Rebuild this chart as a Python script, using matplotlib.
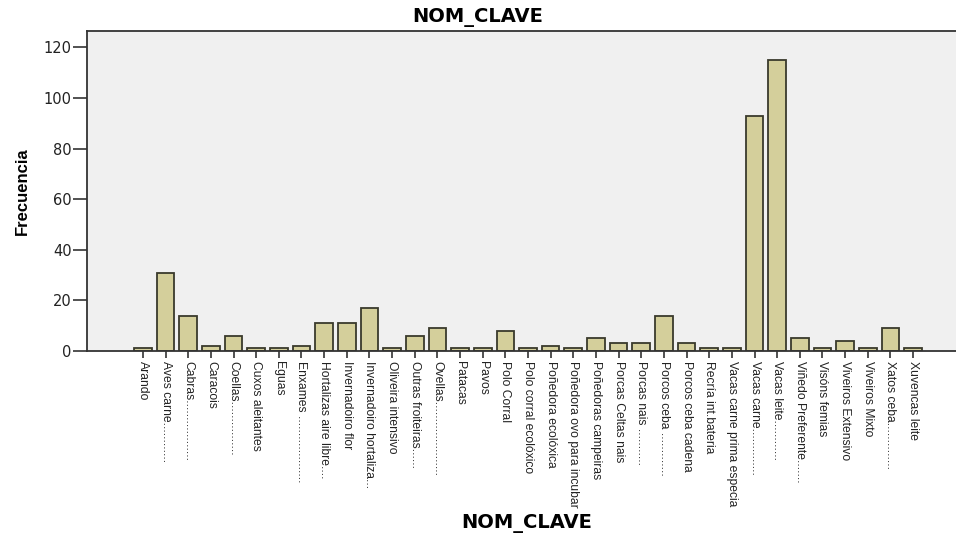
import matplotlib
matplotlib.use('Agg')
import matplotlib.pyplot as plt

# categorías e frecuencias
categorias = [
    "Arando", "Aves carne............", "Cabras..................", "Caracois",
    "Coellas................", "Cuxos aleitantes", "Eguas", "Enxames ....................",
    "Hortalizas aire libre....", "Invernadoiro flor", "Invernadoiro hortaliza...",
    "Oliveira intensivo", "Outras froiteiras......", "Ovellas......................",
    "Patacas", "Pavos", "Polo Corral", "Polo corral ecolóxico", "Poñedora ecolóxica",
    "Poñedora ovo para incubar", "Poñedoras campeiras", "Porcas Celtas nais",
    "Porcas nais ...........", "Porcos ceba .............", "Porcos ceba cadena",
    "Recría int.bateria", "Vacas carne prima especia", "Vacas carne..............",
    "Vacas leite............", "Viñedo Preferente.......", "Visóns femias",
    "Viveiros Extensivo", "Viveiros Mixto", "Xatos ceba..............", "Xuvencas leite",
]
frecuencias = [1, 31, 14, 2, 6, 1, 1, 2, 11, 11, 17, 1, 6, 9, 1, 1, 8, 1, 2, 1,
               5, 3, 3, 14, 3, 1, 1, 93, 115, 5, 1, 4, 1, 9, 1]
yticks = [0, 20, 40, 60, 80, 100, 120]

fig = plt.figure(figsize=(9.56, 5.37), dpi=100)
# o eixo continúa por fóra da dereita da imaxe, coma no orixinal
ax = fig.add_axes([87 / 956, 1 - 351 / 537, 882 / 956, 320 / 537])
ax.set_facecolor('#f0f0f0')

x = list(range(len(categorias)))
ax.bar(x, frecuencias, width=0.78, color='#d4cf9b', edgecolor='#3a3a2c', linewidth=1.3)

ax.set_xlim(-2.47, 36.47)
ax.set_ylim(0, 126.5)
ax.set_yticks(yticks)
ax.set_xticks(x)
ax.set_xticklabels(categorias, rotation=270, fontsize=8.7, family='Liberation Sans',
                   color='#222222', va='top', ha='center')
for lab in ax.get_yticklabels():
    lab.set_fontsize(10.5)
    lab.set_color('#222222')

ax.tick_params(axis='y', length=10, width=1.2, pad=1, color='#333333')
ax.tick_params(axis='x', length=5, width=1.2, pad=2, color='#333333')
for s in ['left', 'top', 'bottom']:
    ax.spines[s].set_color('#333333')
    ax.spines[s].set_linewidth(1.3)
ax.spines['right'].set_visible(False)

fig.text(0.5, 0.968, 'NOM_CLAVE', ha='center', va='center', fontsize=14, fontweight='bold')
fig.text(0.551, 0.026, 'NOM_CLAVE', ha='center', va='center', fontsize=14, fontweight='bold')
fig.text(0.023, 1 - 191 / 537, 'Frecuencia', ha='center', va='center', rotation=90,
         fontsize=12, fontweight='bold', family='Liberation Sans')

fig.savefig('out.png', dpi=100)
